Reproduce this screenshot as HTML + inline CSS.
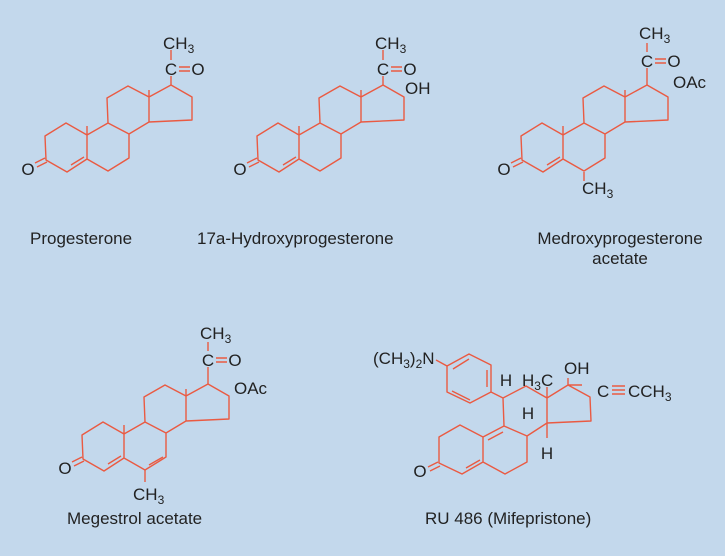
<!DOCTYPE html>
<html><head><meta charset="utf-8"><style>
html,body{margin:0;padding:0;background:#c3d8ec;}
svg{display:block}
text{font-family:"Liberation Sans",sans-serif;font-size:17px;fill:#222;}
.b{stroke:#ea5a42;stroke-width:1.4;fill:none;stroke-linejoin:round}
</style></head><body>
<svg width="725" height="556" viewBox="0 0 725 556" xmlns="http://www.w3.org/2000/svg">
<rect width="725" height="556" fill="#c3d8ec"/>
<defs>
<g id="sk">
<path class="b" d="M45,136 L66,123 L87,135 L87,159 L67,172 L46,160 Z M87,135 L108,123 L129,134 L129,158 L108,171 L87,159 M108,123 L107,98 L128,86 L149,97 L149,122 L129,134 M149,97 L171,85 L192,97 L192,120 L149,122 M87,135 L87,126 M149,97 L149,90 M45,158 L35,163 M47,162 L37,167 M71,165 L84,157"/>
<text x="28" y="175" text-anchor="middle">O</text>
</g>
</defs>
<!-- Progesterone -->
<use href="#sk"/>
<path class="b" d="M171,85 L171,76 M171,50 L171,60 M179,67 L190,67 M179,71 L190,71"/>
<text x="171" y="75" text-anchor="middle">C</text>
<text x="198" y="75" text-anchor="middle">O</text>
<text x="163" y="49">CH<tspan font-size="12" dy="4">3</tspan></text>
<text x="30" y="244">Progesterone</text>
<!-- 17a -->
<use href="#sk" transform="translate(212,0)"/>
<path class="b" d="M383,85 L383,76 M383,50 L383,60 M391,67 L402,67 M391,71 L402,71"/>
<text x="383" y="75" text-anchor="middle">C</text>
<text x="410" y="75" text-anchor="middle">O</text>
<text x="375" y="49">CH<tspan font-size="12" dy="4">3</tspan></text>
<text x="405" y="94">OH</text>
<text x="197" y="244">17a-Hydroxyprogesterone</text>
<!-- Medroxy -->
<use href="#sk" transform="translate(476,0)"/>
<path class="b" d="M647,85 L647,68 M647,43 L647,52 M655,59 L666,59 M655,63 L666,63 M584,172 L584,181"/>
<text x="647" y="67" text-anchor="middle">C</text>
<text x="674" y="67" text-anchor="middle">O</text>
<text x="639" y="39">CH<tspan font-size="12" dy="4">3</tspan></text>
<text x="673" y="88">OAc</text>
<text x="582" y="194">CH<tspan font-size="12" dy="4">3</tspan></text>
<text x="620" y="244" text-anchor="middle">Medroxyprogesterone</text>
<text x="620" y="264" text-anchor="middle">acetate</text>
<!-- Megestrol -->
<use href="#sk" transform="translate(37,299)"/>
<path class="b" d="M208,384 L208,367 M208,342 L208,351 M216,358 L227,358 M216,362 L227,362 M145,470 L145,482 M149,465 L163,457"/>
<text x="208" y="366" text-anchor="middle">C</text>
<text x="235" y="366" text-anchor="middle">O</text>
<text x="200" y="339">CH<tspan font-size="12" dy="4">3</tspan></text>
<text x="234" y="394">OAc</text>
<text x="133" y="500">CH<tspan font-size="12" dy="4">3</tspan></text>
<text x="67" y="524">Megestrol acetate</text>
<!-- RU486 -->
<path class="b" d="M439,437 L460,425 L483,437 L483,462 L462,474 L439,463 Z M483,437 L504,426 L527,436 L527,462 L505,474 L483,462 M504,426 L503,398 L526,386 L547,398 L547,423 L527,436 M547,398 L568,385 L590,397 L591,421 L547,423 M547,423 L547,438 M547,398 L547,387 M568,385 L582,385 M568,385 L568,378 M503,398 L491,392 M491,392 L491,365 L469,354 L447,366 L447,392 L470,403 Z M447,366 L436,360 M438,462 L428,467 M440,466 L430,471 M466,468 L480,460 M488,440 L503,432 M453,369 L469,359 M487,370 L487,387 M452,391 L470,400"/>
<text x="420" y="477" text-anchor="middle">O</text>
<text x="547" y="459" text-anchor="middle">H</text>
<text x="528" y="419" text-anchor="middle">H</text>
<text x="506" y="386" text-anchor="middle">H</text>
<text x="522" y="386">H<tspan font-size="12" dy="4">3</tspan><tspan dy="-4">C</tspan></text>
<text x="564" y="374">OH</text>
<text x="597" y="397">C</text>
<path class="b" d="M612,386 L625,386 M612,390 L625,390 M612,394 L625,394"/>
<text x="628" y="397">CCH<tspan font-size="12" dy="4">3</tspan></text>
<text x="373" y="364">(CH<tspan font-size="12" dy="4">3</tspan><tspan dy="-4">)</tspan><tspan font-size="12" dy="4">2</tspan><tspan dy="-4">N</tspan></text>
<text x="425" y="524">RU 486 (Mifepristone)</text>
</svg>
</body></html>
